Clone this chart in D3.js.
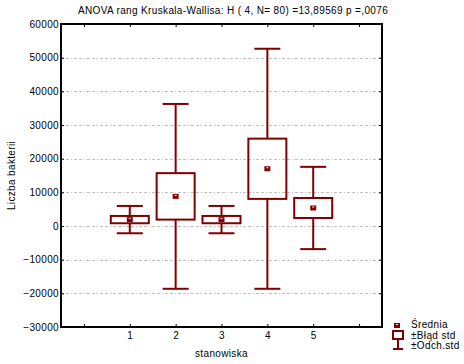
<!DOCTYPE html>
<html>
<head>
<meta charset="utf-8">
<script src="https://cdn.jsdelivr.net/npm/d3@7"></script>
<style>
    body { margin: 0; background: #fff; }
    svg text { font-family: Arial, "Liberation Sans", sans-serif; font-size: 10px; letter-spacing: 0.35px; fill: #000; }
</style>
</head>
<body>
<div id="chart"></div>
<script>
// stanowiska (groups)
let groups = [1, 2, 3, 4, 5];
// mean, standard error, standard deviation of "Liczba bakterii"
let means = [1900, 8800, 1900, 17000, 5350];
let stdErrs = [1085, 6900, 1085, 8950, 2970];
let stdDevs = [4055, 27450, 4055, 35650, 12220];
let yTicks = [-30000, -20000, -10000, 0, 10000, 20000, 30000, 40000, 50000, 60000];
let xTicks = [0, 1, 2, 3, 4, 5, 6];
let legendLabels = ['Średnia', '±Błąd std', '±Odch.std'];

let title = 'ANOVA rang Kruskala-Wallisa: H ( 4, N= 80) =13,89569 p =,0076';
let color = '#800000';

let width = 464, height = 364;
let margin = {left: 61, top: 24, right: 82, bottom: 37};

let svg = d3.select('#chart')
    .append('svg')
    .attr('width', width)
    .attr('height', height);

let x = d3.scaleLinear()
    .domain([-0.5, 6.5])
    .range([margin.left, width - margin.right]);
let y = d3.scaleLinear()
    .domain([-30000, 60000])
    .range([height - margin.bottom, margin.top]);

// grid lines
svg.append('g')
    .selectAll('line')
    .data(yTicks.slice(1, -1))
    .enter()
    .append('line')
    .attr('x1', x.range()[0])
    .attr('x2', x.range()[1])
    .attr('y1', d => Math.round(y(d)) + 0.5)
    .attr('y2', d => Math.round(y(d)) + 0.5)
    .attr('stroke', '#c0c0c0')
    .attr('stroke-dasharray', '3,2,3,2,1,2');

// axes
let axisLeft = svg.append('g')
    .attr('transform', 'translate(' + x.range()[0] + ',0)')
    .call(d3.axisLeft(y).tickValues(yTicks).tickSize(-3).tickPadding(2).tickFormat(d3.format('d')));
let axisRight = svg.append('g')
    .attr('transform', 'translate(' + x.range()[1] + ',0)')
    .call(d3.axisRight(y).tickValues(yTicks).tickSize(-3).tickFormat(''));
let axisBottom = svg.append('g')
    .attr('transform', 'translate(0,' + y.range()[0] + ')')
    .call(d3.axisBottom(x).tickValues(xTicks).tickSize(-3).tickPadding(5)
        .tickFormat(d => (d >= 1 && d <= 5) ? d : ''));
let axisTop = svg.append('g')
    .attr('transform', 'translate(0,' + y.range()[1] + ')')
    .call(d3.axisTop(x).tickValues(xTicks).tickSize(-3).tickFormat(''));

[axisLeft, axisRight, axisBottom, axisTop].forEach(a => {
    a.select('.domain').remove();
    a.selectAll('.tick line').attr('stroke', '#000');
    a.selectAll('text').attr('font-size', null).attr('font-family', null);
});

// frame
svg.append('rect')
    .attr('x', x.range()[0])
    .attr('y', y.range()[1])
    .attr('width', x.range()[1] - x.range()[0])
    .attr('height', y.range()[0] - y.range()[1])
    .attr('fill', 'none')
    .attr('stroke', '#000')
    .attr('stroke-width', 2);

// box plots
let data = groups.map((g, i) => ({g: g, mean: means[i], se: stdErrs[i], sd: stdDevs[i]}));
let boxW = 38, capW = 26;

let box = svg.append('g')
    .selectAll('g')
    .data(data)
    .enter()
    .append('g')
    .attr('stroke', color)
    .attr('stroke-width', 2)
    .attr('fill', 'none');

box.append('line')
    .attr('x1', d => x(d.g))
    .attr('x2', d => x(d.g))
    .attr('y1', d => y(d.mean + d.sd))
    .attr('y2', d => y(d.mean + d.se));
box.append('line')
    .attr('x1', d => x(d.g))
    .attr('x2', d => x(d.g))
    .attr('y1', d => y(d.mean - d.se))
    .attr('y2', d => y(d.mean - d.sd));
box.append('line')
    .attr('x1', d => x(d.g) - capW / 2)
    .attr('x2', d => x(d.g) + capW / 2)
    .attr('y1', d => y(d.mean + d.sd))
    .attr('y2', d => y(d.mean + d.sd));
box.append('line')
    .attr('x1', d => x(d.g) - capW / 2)
    .attr('x2', d => x(d.g) + capW / 2)
    .attr('y1', d => y(d.mean - d.sd))
    .attr('y2', d => y(d.mean - d.sd));
box.append('rect')
    .attr('x', d => x(d.g) - boxW / 2)
    .attr('y', d => y(d.mean + d.se))
    .attr('width', boxW)
    .attr('height', d => y(d.mean - d.se) - y(d.mean + d.se));

let meanMark = (sel, cx, cy) => {
    sel.append('rect')
        .attr('x', cx - 3)
        .attr('y', cy - 2.5)
        .attr('width', 6)
        .attr('height', 5)
        .attr('fill', color);
    sel.append('rect')
        .attr('x', cx - 1)
        .attr('y', cy - 1.5)
        .attr('width', 2)
        .attr('height', 1)
        .attr('fill', '#fff');
};
box.each(function(d) {
    meanMark(d3.select(this).append('g').attr('stroke', 'none'), x(d.g), y(d.mean));
});

// texts
svg.append('text')
    .attr('x', 233)
    .attr('y', 14)
    .attr('text-anchor', 'middle')
    .text(title);
svg.append('text')
    .attr('transform', 'translate(15,' + ((y.range()[0] + y.range()[1]) / 2) + ') rotate(-90)')
    .attr('text-anchor', 'middle')
    .text('Liczba bakterii');
svg.append('text')
    .attr('x', (x.range()[0] + x.range()[1]) / 2)
    .attr('y', 357)
    .attr('text-anchor', 'middle')
    .text('stanowiska');

// legend
let legend = svg.append('g');
meanMark(legend, 397, 325.5);
legend.append('rect')
    .attr('x', 393)
    .attr('y', 331)
    .attr('width', 10)
    .attr('height', 8)
    .attr('fill', 'none')
    .attr('stroke', color)
    .attr('stroke-width', 2);
legend.append('line')
    .attr('x1', 398).attr('x2', 398)
    .attr('y1', 339).attr('y2', 349)
    .attr('stroke', color).attr('stroke-width', 2);
legend.append('line')
    .attr('x1', 393).attr('x2', 403)
    .attr('y1', 349).attr('y2', 349)
    .attr('stroke', color).attr('stroke-width', 2);
legend.selectAll('text')
    .data(legendLabels)
    .enter()
    .append('text')
    .attr('x', 411)
    .attr('y', (d, i) => 328 + i * 10.5)
    .text(d => d);
</script>
</body>
</html>
